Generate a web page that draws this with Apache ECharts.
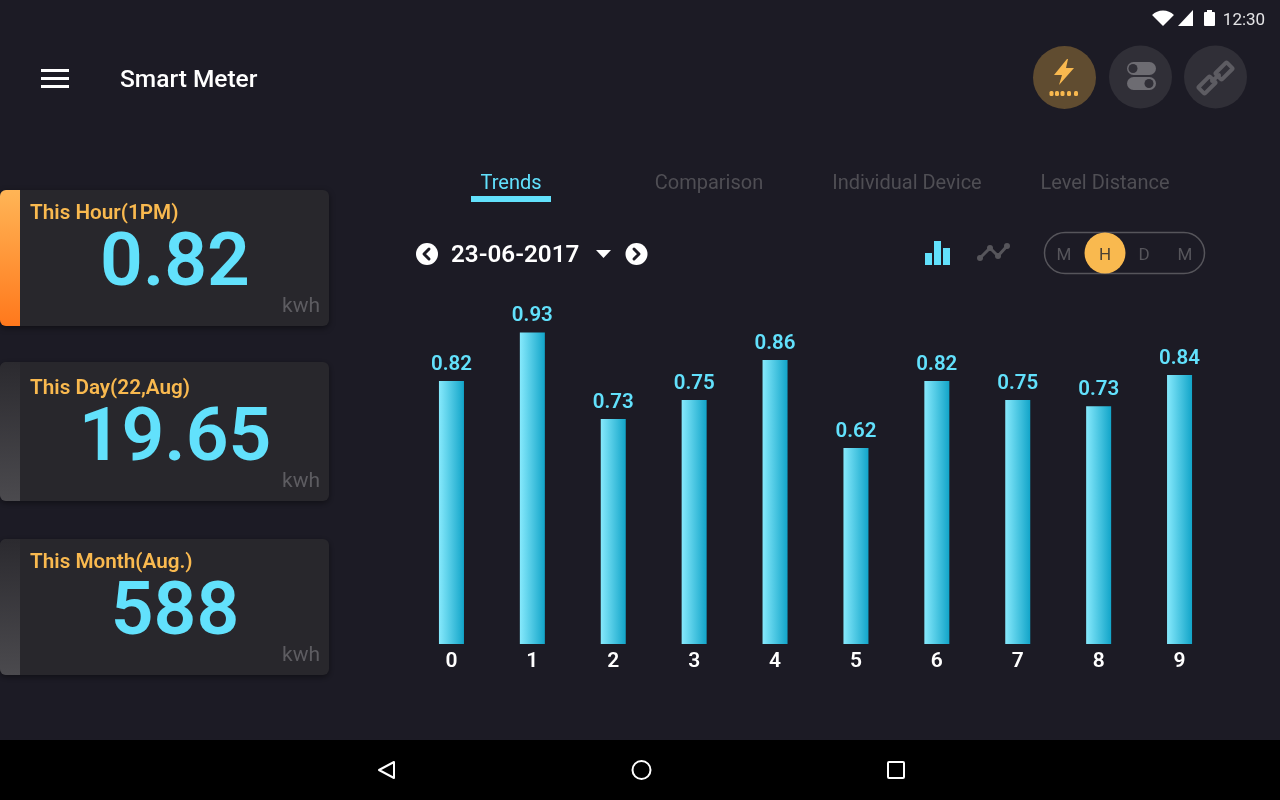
<!DOCTYPE html>
<html>
<head>
<meta charset="utf-8">
<title>Smart Meter</title>
<script src="https://cdn.jsdelivr.net/npm/echarts@6/dist/echarts.min.js"></script>
<style>
html,body{margin:0;padding:0;background:#1c1b25;}
#main{width:1280px;height:800px;}
</style>
</head>
<body>
<div id="main"></div>
<script>
var categories = ['0','1','2','3','4','5','6','7','8','9'];
// numbers printed over the bars
var printedValues = [0.82,0.93,0.73,0.75,0.86,0.62,0.82,0.75,0.73,0.84];
// bar heights, they do not follow the printed numbers exactly
var barLevels = [0.785,0.93,0.672,0.728,0.848,0.585,0.785,0.728,0.71,0.803];
var tabs = ['Trends','Comparison','Individual Device','Level Distance'];
var cards = [
    {title:'This Hour(1PM)', value:'0.82', active:true},
    {title:'This Day(22,Aug)', value:'19.65'},
    {title:'This Month(Aug.)', value:'588'}
];
var periods = ['M','H','D','M'];

var FONT = 'Roboto';
var CYAN = '#62e1fc';
var AMBER = '#f9b94f';
var gfx = [];

function text(x,y,str,size,color,weight,align){
    gfx.push({type:'text',x:x,y:y,style:{text:str,fontFamily:FONT,fontSize:size,fill:color,
        fontWeight:weight||400,align:align||'center',verticalAlign:'middle'}});
}
function rect(x,y,w,h,fill,r,extra){
    var style = Object.assign({fill:fill},extra||{});
    gfx.push({type:'rect',shape:{x:x,y:y,width:w,height:h,r:r||0},style:style});
}
function circle(x,y,r,style){
    gfx.push({type:'circle',shape:{cx:x,cy:y,r:r},style:style});
}
function poly(points,fill){
    gfx.push({type:'polygon',shape:{points:points},style:{fill:fill}});
}
function line(points,color,width){
    gfx.push({type:'polyline',shape:{points:points},style:{fill:null,stroke:color,lineWidth:width,lineCap:'round',lineJoin:'round'}});
}

// status bar
gfx.push({type:'sector',shape:{cx:1163,cy:26,r0:0,r:15.5,startAngle:-Math.PI*0.75,endAngle:-Math.PI*0.25},style:{fill:'#fff'}});
poly([[1178,26],[1193,26],[1193,10]],'#fff');
rect(1204,12,11,14,'#fff',1);
rect(1207,10,5,3,'#fff');
text(1244,21,'12:30',17,'#e4e4e6',400);

// header
rect(41,69,28,3,'#fff');
rect(41,77,28,3,'#fff');
rect(41,85,28,3,'#fff');
text(120,81,'Smart Meter',24.5,'#fff',500,'left');

// round buttons
circle(1064.5,77.5,31.5,{fill:'#604c30'});
circle(1140.5,77,31.5,{fill:'#302f37'});
circle(1215.5,77,31.5,{fill:'#302f37'});
poly([[1067,59],[1054,75],[1062,75],[1059,85],[1074,68],[1066,68],[1068,59]],AMBER);
[1051.5,1057,1062.5,1069,1076].forEach(function(x){ rect(x-2,91,4,5,AMBER,1.5); });
rect(1127,62,29,13,'#6d6c72',6.5);
circle(1133,68.5,4.5,{fill:'#302f37'});
rect(1127,77,29,13,'#6d6c72',6.5);
circle(1149,83.5,4.5,{fill:'#302f37'});
gfx.push({type:'rect',x:1224,y:71,rotation:Math.PI/4,
    shape:{x:-8,y:-4.5,width:16,height:9,r:1},style:{fill:null,stroke:'#5d5c62',lineWidth:4}});
gfx.push({type:'rect',x:1207,y:85,rotation:Math.PI/4,
    shape:{x:-8,y:-4.5,width:16,height:9,r:1},style:{fill:null,stroke:'#5d5c62',lineWidth:4}});
line([[1212,81],[1219,75]],'#5d5c62',4);

// cards on the left
var cardTops = [190,362,539], cardHeights = [136,139,136], titleDrop = [24,27,24];
cards.forEach(function(c,i){
    var y = cardTops[i], h = cardHeights[i];
    rect(0,y,329,h,'#28272c',6,{shadowBlur:6,shadowColor:'rgba(0,0,0,0.45)',shadowOffsetY:2});
    rect(0,y,20,h,new echarts.graphic.LinearGradient(0,0,0,1,c.active
        ? [{offset:0,color:'#ffb556'},{offset:1,color:'#ff781c'}]
        : [{offset:0,color:'#2b2a2f'},{offset:1,color:'#4b4a4e'}]),[6,0,0,6]);
    text(30,y+titleDrop[i],c.title,20.7,AMBER,600,'left');
    text(175,y+(i==1?79:76),c.value,75,CYAN,600);
    text(320,y+(i==1?120:117),'kwh',21,'#5d5c61',400,'right');
});

// tabs
var tabX = [511,709,907,1105];
tabs.forEach(function(t,i){
    text(tabX[i],184,t,20,i==0?CYAN:'#4f4e54',400);
});
rect(471,196,80,6,CYAN);

// date picker
circle(427,254,11,{fill:'#fff'});
line([[429,249],[424,254],[429,259]],'#1c1b25',3);
text(451,256,'23-06-2017',24.2,'#fff',600,'left');
poly([[596,250],[611,250],[603.5,258]],'#fff');
circle(636.5,254,11,{fill:'#fff'});
line([[634,249],[639,254],[634,259]],'#1c1b25',3);

// chart type icons
rect(925,253,7,12,CYAN);
rect(934,241,7,24,CYAN);
rect(943,248,7,17,CYAN);
line([[980,258],[990,248],[998,256],[1007,246]],'#56555b',3);
[[980,258],[990,248],[998,256],[1007,246]].forEach(function(p){
    circle(p[0],p[1],3,{fill:'#56555b'});
});

// period switch
rect(1044.5,232.5,160,41,null,20.5,{stroke:'#56555b',lineWidth:1.5});
circle(1105,253,20.5,{fill:AMBER});
var periodX = [1064,1105,1144,1185];
periods.forEach(function(p,i){
    text(periodX[i],255.5,p,17,i==1?'#4a4033':'#56555b',400);
});

// navigation bar
rect(0,740,1280,60,'#000');
gfx.push({type:'polygon',shape:{points:[[394,762],[394,778],[379,770]]},style:{fill:null,stroke:'#fff',lineWidth:2,lineJoin:'round'}});
circle(641.5,770,9,{fill:null,stroke:'#fff',lineWidth:2});
rect(888,762,16,16,null,1,{stroke:'#fff',lineWidth:2});

var option = {
    animation:false,
    backgroundColor:'#1c1b25',
    grid:{left:411,width:809,top:309,height:335},
    xAxis:{
        type:'category',
        data:categories,
        axisLine:{show:false},
        axisTick:{show:false},
        axisLabel:{color:'#fff',fontFamily:FONT,fontSize:21,fontWeight:600,margin:7}
    },
    yAxis:{
        type:'value',
        min:0,
        max:1,
        show:false,
        splitLine:{show:false}
    },
    series:[{
        type:'bar',
        data:barLevels,
        barWidth:25,
        itemStyle:{color:new echarts.graphic.LinearGradient(0,0,1,0,[
            {offset:0,color:'#86e9fc'},
            {offset:1,color:'#12a5c9'}
        ])},
        label:{
            show:true,
            position:'top',
            distance:6,
            color:CYAN,
            fontFamily:FONT,
            fontSize:20.5,
            fontWeight:600,
            formatter:function(p){ return printedValues[p.dataIndex].toFixed(2); }
        }
    }],
    graphic:{elements:gfx}
};

var chart = echarts.init(document.getElementById('main'));
chart.setOption(option);
</script>
</body>
</html>
